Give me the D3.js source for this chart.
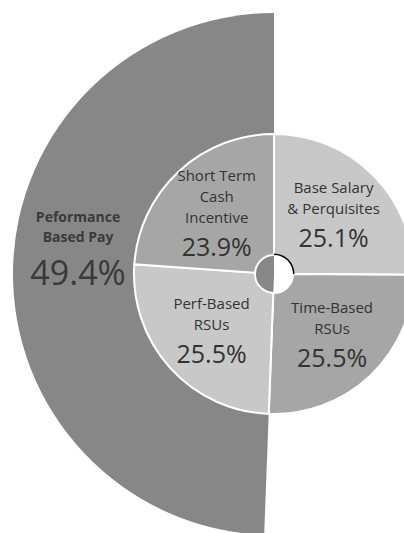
<!DOCTYPE html>
<html>
<head>
<meta charset="utf-8">
<script src="https://cdn.jsdelivr.net/npm/d3@7"></script>
<style>
  body { margin: 0; background: #fff; }
  svg { display: block; }
</style>
</head>
<body>
<div id="chart"></div>
<script>
const width = 404;
const height = 533;

// inner pie, clockwise from 12 o'clock
const innerNames = [
    ["Base Salary", "& Perquisites"],
    ["Time-Based", "RSUs"],
    ["Perf-Based", "RSUs"],
    ["Short Term", "Cash", "Incentive"]
];
const innerValues = [25.1, 25.5, 25.5, 23.9];
const innerColors = ["#c8c8c8", "#a6a6a6", "#c8c8c8", "#a6a6a6"];

// outer half ring (performance based = short term + perf RSUs)
const outerNames = [["Peformance", "Based Pay"]];
const outerValues = [49.4];

const cx = 274, cy = 274;

const svg = d3.select("#chart")
    .append("svg")
    .attr("width", width)
    .attr("height", height);

const g = svg.append("g").attr("transform", `translate(${cx},${cy})`);

// outer slice, ending at the top
const outerPie = d3.pie().sort(null)
    .startAngle(-2 * Math.PI * d3.sum(outerValues) / 100)
    .endAngle(0);
const outerArc = d3.arc().innerRadius(0).outerRadius(261);

g.selectAll("path.outer")
    .data(outerPie(outerValues))
    .enter()
    .append("path")
    .attr("class", "outer")
    .attr("d", outerArc)
    .attr("fill", "#878787");

// inner doughnut
const innerPie = d3.pie().sort(null);
const innerArc = d3.arc().innerRadius(19).outerRadius(140);
const innerSlices = innerPie(innerValues);

g.selectAll("path.inner")
    .data(innerSlices)
    .enter()
    .append("path")
    .attr("class", "inner")
    .attr("d", innerArc)
    .attr("fill", (d, i) => innerColors[i])
    .attr("stroke", "#fff")
    .attr("stroke-width", 2);

// dark edge on the first slice's inner side
g.append("path")
    .attr("d", d3.arc().innerRadius(19).outerRadius(20.5)(innerSlices[0]))
    .attr("fill", "#000");

// labels
function drawLabel(pos, names, value, o) {
    const n = names.length;
    const h = o.cap + o.lineH * (n - 1) + o.pctGap;
    const top = pos[1] - h / 2 + (o.dy || 0);
    const t = g.append("g").attr("fill", o.color).attr("text-anchor", "middle")
        .style("font-family", "'Open Sans', sans-serif");
    names.forEach((s, j) => {
        t.append("text")
            .attr("x", pos[0])
            .attr("y", top + o.cap + j * o.lineH)
            .attr("font-size", o.nameSize)
            .attr("font-weight", o.weight)
            .text(s);
    });
    t.append("text")
        .attr("x", pos[0])
        .attr("y", top + h)
        .attr("font-size", o.pctSize)
        .text(value.toFixed(1) + "%");
}

const innerLabelArc = d3.arc().innerRadius(84).outerRadius(84);
innerSlices.forEach((d, i) => {
    drawLabel(innerLabelArc.centroid(d), innerNames[i], innerValues[i], {
        cap: 11, lineH: 21, pctGap: 33, nameSize: 15, pctSize: 25,
        weight: "normal", color: "#333"
    });
});

const outerLabelArc = d3.arc().innerRadius(196).outerRadius(196);
outerPie(outerValues).forEach((d, i) => {
    drawLabel(outerLabelArc.centroid(d), outerNames[i], outerValues[i], {
        cap: 11, lineH: 20, pctGap: 43, nameSize: 14, pctSize: 34,
        weight: "bold", color: "#3a3a3a", dy: -22
    });
});
</script>
</body>
</html>
